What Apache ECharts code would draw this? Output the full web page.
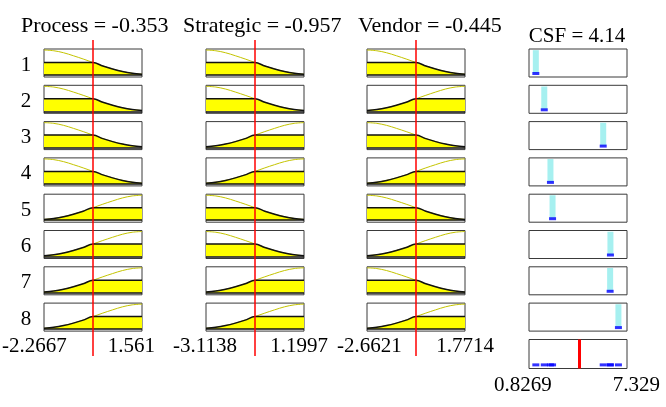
<!DOCTYPE html>
<html>
<head>
<meta charset="utf-8">
<script src="https://cdn.jsdelivr.net/npm/echarts@6/dist/echarts.min.js"></script>
<style>
  html, body { margin: 0; padding: 0; background: #fff; }
  #chart { width: 666px; height: 407px; }
</style>
</head>
<body>
<div id="chart"></div>
<script>
// 规则名称 / 输入变量
const ruleNames = ['1', '2', '3', '4', '5', '6', '7', '8'];
const inputNames = ['Process', 'Strategic', 'Vendor'];
const inputValues = [-0.353, -0.957, -0.445];
const processRange = [-2.2667, 1.561];
const strategicRange = [-3.1138, 1.1997];
const vendorRange = [-2.6621, 1.7714];

// 每条规则使用的隶属函数 (low = 左侧递减, high = 右侧递增)
const processMF = ['low', 'low', 'low', 'low', 'high', 'high', 'high', 'high'];
const strategicMF = ['low', 'low', 'high', 'high', 'low', 'low', 'high', 'high'];
const vendorMF = ['low', 'high', 'low', 'high', 'low', 'high', 'low', 'high'];

// 隶属函数形状 (相对位置 0..1)
const mfGrid = [0, 0.1, 0.2, 0.3, 0.4, 0.5, 0.6, 0.7, 0.8, 0.9, 1];
const mfLow = [1, 0.97, 0.89, 0.77, 0.64, 0.5, 0.36, 0.24, 0.14, 0.07, 0.03];
const mfHigh = [0.03, 0.07, 0.14, 0.24, 0.36, 0.5, 0.64, 0.77, 0.89, 0.97, 1];
const firing = 0.5;

// 输出 CSF
const csfName = 'CSF';
const csfRange = [0.8269, 7.329];
const ruleOutputs = [1.28, 1.84, 5.75, 2.25, 2.39, 6.23, 6.21, 6.76];
const csfValue = 4.14;

const ranges = [processRange, strategicRange, vendorRange];
const mfTypes = [processMF, strategicMF, vendorMF];

// 布局
const colLeft = [44, 206, 367, 529];
const boxW = 98;
const boxH = 28;
const rowTop0 = 49;
const rowStep = 36.3;
const serif = '"Liberation Serif", "Times New Roman", serif';

const chart = echarts.init(document.getElementById('chart'));

const grids = [], xAxes = [], yAxes = [], series = [], graphics = [];

function addGrid(left, top, width, height, xr, yr, border) {
  grids.push({
    left: left, top: top, width: width, height: height,
    show: border, borderColor: '#3a3a3a', borderWidth: 1, backgroundColor: '#fff'
  });
  const i = grids.length - 1;
  xAxes.push({ gridIndex: i, type: 'value', min: xr[0], max: xr[1], show: false });
  yAxes.push({ gridIndex: i, type: 'value', min: yr[0], max: yr[1], show: false });
  return i;
}

// 输入列
for (let c = 0; c < 3; c++) {
  const lo = ranges[c][0], hi = ranges[c][1];
  ruleNames.forEach((r, k) => {
    const top = rowTop0 + k * rowStep;
    const g = addGrid(colLeft[c], top, boxW, boxH, [lo, hi], [-0.08, 1.04], true);
    const shape = mfTypes[c][k] === 'low' ? mfLow : mfHigh;
    const curve = mfGrid.map((f, j) => [lo + f * (hi - lo), shape[j]]);
    const clipped = curve.map(p => [p[0], Math.min(p[1], firing)]);
    series.push({
      type: 'line', xAxisIndex: g, yAxisIndex: g, data: curve, smooth: 0.35,
      symbol: 'none', lineStyle: { color: '#c4c400', width: 1 }, z: 2
    });
    series.push({
      type: 'line', xAxisIndex: g, yAxisIndex: g, data: clipped, smooth: 0.35,
      symbol: 'none', lineStyle: { color: '#111', width: 1.5 },
      areaStyle: { color: '#ffff00', opacity: 1 }, z: 3,
      markLine: {
        silent: true, symbol: 'none', label: { show: false },
        lineStyle: { color: '#111', width: 1.5, type: 'solid' },
        data: [{ yAxis: 0 }]
      }
    });
  });
  // 贯穿所有规则的红色输入线
  const tg = addGrid(colLeft[c], 40, boxW, 316, [lo, hi], [0, 1], false);
  series.push({
    type: 'line', xAxisIndex: tg, yAxisIndex: tg, data: [[inputValues[c], 0]],
    symbol: 'none', z: 10,
    markLine: {
      silent: true, symbol: 'none', label: { show: false },
      lineStyle: { color: '#ff0000', width: 1.5, type: 'solid' },
      data: [{ xAxis: inputValues[c] }]
    }
  });
}

// 输出列
ruleNames.forEach((r, k) => {
  const top = rowTop0 + k * rowStep;
  const g = addGrid(colLeft[3], top, boxW, boxH, csfRange, [-0.15, 1.05], true);
  const v = ruleOutputs[k];
  series.push({
    type: 'line', xAxisIndex: g, yAxisIndex: g, data: [[v, 0], [v, 1]],
    symbol: 'none', lineStyle: { color: '#a6f0f0', width: 6, cap: 'butt' }, z: 2
  });
  series.push({
    type: 'scatter', xAxisIndex: g, yAxisIndex: g, data: [[v, 0]],
    symbol: 'rect', symbolSize: [7, 3], itemStyle: { color: '#0000ff' }, z: 3
  });
});

// 聚合结果
const ag = addGrid(colLeft[3], 339.5, boxW, 29, csfRange, [-0.15, 1.05], true);
series.push({
  type: 'scatter', xAxisIndex: ag, yAxisIndex: ag,
  data: ruleOutputs.map(v => [v, 0]),
  symbol: 'rect', symbolSize: [7, 3], itemStyle: { color: '#0000ff' }, z: 3,
  markLine: {
    silent: true, symbol: 'none', label: { show: false },
    lineStyle: { color: '#ff0000', width: 3, type: 'solid' },
    data: [{ xAxis: csfValue }]
  }
});

// 文本
function txt(x, y, s, size, align) {
  graphics.push({
    type: 'text', x: x, y: y, z: 20,
    style: { text: s, font: size + 'px ' + serif, fill: '#000', textAlign: align, textVerticalAlign: 'middle' }
  });
}
const titleX = [21, 183, 358];
inputNames.forEach((n, c) => txt(titleX[c], 26, n + ' = ' + inputValues[c], 22, 'left'));
txt(577, 36, csfName + ' = ' + csfValue, 21, 'center');
ruleNames.forEach((r, k) => txt(26, rowTop0 + k * rowStep + 16, r, 21, 'center'));

const lowLabelX = [2, 173, 337];
const highLabelX = [155, 328, 494];
ranges.forEach((rg, c) => {
  txt(lowLabelX[c], 346, String(rg[0]), 21, 'left');
  txt(highLabelX[c], 346, String(rg[1]), 21, 'right');
});
txt(494, 385, String(csfRange[0]), 21, 'left');
txt(660, 385, String(csfRange[1]), 21, 'right');

chart.setOption({
  animation: false,
  grid: grids,
  xAxis: xAxes,
  yAxis: yAxes,
  series: series,
  graphic: graphics
});
</script>
</body>
</html>
